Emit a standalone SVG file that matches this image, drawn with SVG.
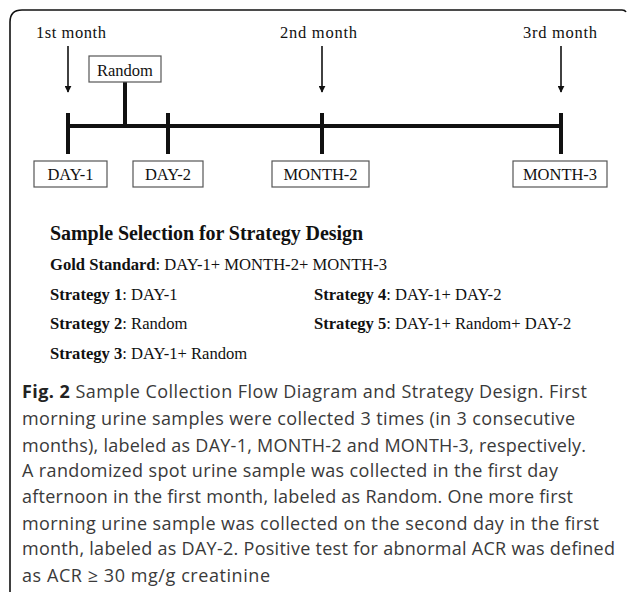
<svg xmlns="http://www.w3.org/2000/svg" width="627" height="592" viewBox="0 0 627 592">
<style>
.serif{font-family:"Liberation Serif","Times New Roman",serif;fill:#111;}
.lbl{font-size:16.5px;}
.box{fill:#fff;stroke:#555;stroke-width:1.2;}
.thick{stroke:#111;stroke-width:4;fill:none;}
.arr{stroke:#111;stroke-width:1.6;fill:none;}
.b{font-weight:bold;}
.st{font-size:16.6px;}
.cap{font-family:"Open Sans","Noto Sans",sans-serif;font-size:18px;fill:#3a3a3a;}
</style>
<defs>
<marker id="ah" viewBox="0 0 10 10" refX="9" refY="5" markerWidth="7" markerHeight="7" markerUnits="userSpaceOnUse" orient="auto">
<path d="M0,0 L10,5 L0,10 z" fill="#111"/>
</marker>
</defs>
<rect width="627" height="592" fill="#fff"/>
<path id="frame" d="M10,592 L10,22 Q10,10 22,10 L622,10 Q625,10 626,12" fill="none" stroke="#111" stroke-width="1.6"/>

<g id="month-labels" class="serif lbl">
<text x="36" y="38" textLength="70">1st month</text>
<text x="280" y="38" textLength="77">2nd month</text>
<text x="523" y="38" textLength="74">3rd month</text>
</g>

<g id="connectors">
<line class="arr" x1="68" y1="46" x2="68" y2="92" marker-end="url(#ah)"/>
<line class="arr" x1="322" y1="46" x2="322" y2="92" marker-end="url(#ah)"/>
<line class="arr" x1="561" y1="46" x2="561" y2="92" marker-end="url(#ah)"/>
<line class="thick" x1="68" y1="126" x2="561" y2="126"/>
<line class="thick" x1="125" y1="82" x2="125" y2="126"/>
<line class="thick" x1="68" y1="113" x2="68" y2="154"/>
<line class="thick" x1="168" y1="113" x2="168" y2="154"/>
<line class="thick" x1="322" y1="113" x2="322" y2="154"/>
<line class="thick" x1="561" y1="113" x2="561" y2="154"/>
</g>

<g id="random">
<rect class="box" x="89" y="56" width="72" height="26"/>
<text class="serif lbl" x="125" y="75.5" text-anchor="middle">Random</text>
</g>
<g id="day1">
<rect class="box" x="34" y="161" width="73" height="26"/>
<text class="serif lbl" x="70.5" y="180" text-anchor="middle">DAY-1</text>
</g>
<g id="day2">
<rect class="box" x="133" y="161" width="70" height="26"/>
<text class="serif lbl" x="168" y="180" text-anchor="middle">DAY-2</text>
</g>
<g id="month2">
<rect class="box" x="272" y="161" width="97" height="26"/>
<text class="serif lbl" x="320.5" y="180" text-anchor="middle">MONTH-2</text>
</g>
<g id="month3">
<rect class="box" x="513" y="161" width="94" height="26"/>
<text class="serif lbl" x="560" y="180" text-anchor="middle">MONTH-3</text>
</g>

<g id="strategies" class="serif st">
<text x="50" y="240" class="b" style="font-size:20px" textLength="313">Sample Selection for Strategy Design</text>
<text x="50" y="270"><tspan class="b">Gold Standard</tspan>: DAY-1+ MONTH-2+ MONTH-3</text>
<text x="50" y="300"><tspan class="b">Strategy 1</tspan>: DAY-1</text>
<text x="50" y="329"><tspan class="b">Strategy 2</tspan>: Random</text>
<text x="50" y="359"><tspan class="b">Strategy 3</tspan>: DAY-1+ Random</text>
<text x="314" y="300"><tspan class="b">Strategy 4</tspan>: DAY-1+ DAY-2</text>
<text x="314" y="329"><tspan class="b">Strategy 5</tspan>: DAY-1+ Random+ DAY-2</text>
</g>

<g id="caption" class="cap">
<text x="22" y="398" textLength="565"><tspan font-weight="bold" fill="#222">Fig. 2</tspan> Sample Collection Flow Diagram and Strategy Design. First</text>
<text x="22" y="425" textLength="553">morning urine samples were collected 3 times (in 3 consecutive</text>
<text x="22" y="452" textLength="564">months), labeled as DAY-1, MONTH-2 and MONTH-3, respectively.</text>
<text x="22" y="477" textLength="536">A randomized spot urine sample was collected in the first day</text>
<text x="22" y="503" textLength="551">afternoon in the first month, labeled as Random. One more first</text>
<text x="22" y="530" textLength="577">morning urine sample was collected on the second day in the first</text>
<text x="22" y="555" textLength="593">month, labeled as DAY-2. Positive test for abnormal ACR was defined</text>
<text x="22" y="582" textLength="248">as ACR ≥ 30 mg/g creatinine</text>
</g>
</svg>
